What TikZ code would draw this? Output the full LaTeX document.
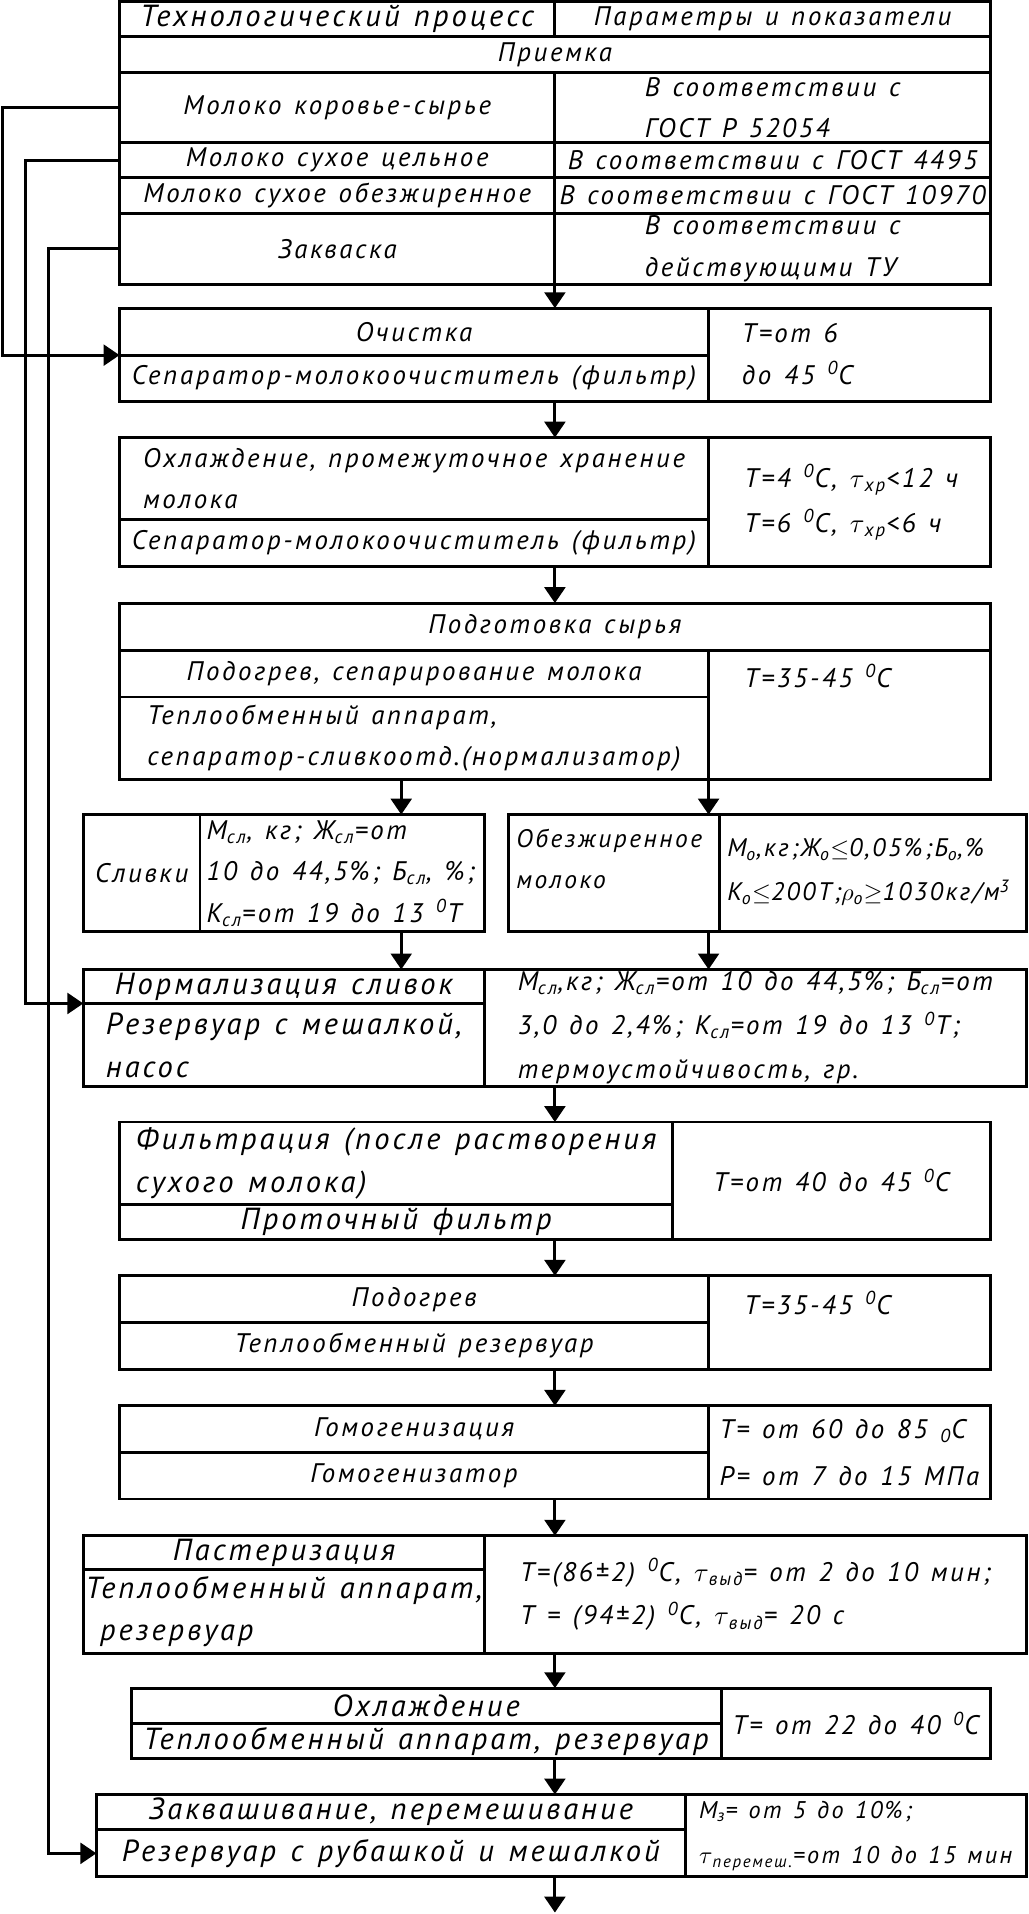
\documentclass[tikz,border=0pt]{standalone}
\usepackage{fontspec}
\setmainfont{PT Sans}[LetterSpace=10, WordSpace=1.3]
\usetikzlibrary{positioning,arrows.meta}
\newcommand{\gradus}{\textsuperscript{0}}
\newcommand{\lowidx}[1]{\textsubscript{#1}}

\begin{document}
\begin{tikzpicture}[x=0.5pt, y=-0.5pt,
  txt/.style={inner sep=0pt, font=\fontsize{11}{17}\selectfont\itshape},
  big/.style={font=\fontsize{12.5}{17.5}\selectfont\itshape},
  lsk/.style={font=\fontsize{11}{#1}\selectfont\itshape},
  cell/.style={draw, line width=1.2pt, outer sep=0pt, txt},
  cellat/.style args={#1/#2/#3/#4}{minimum width={((#3)-(#1))*0.5pt},
    minimum height={((#4)-(#2))*0.5pt}, at={({((#1)+(#3))/2},{((#2)+(#4))/2})}},
  arr/.style={line width=1.2pt, -{Triangle[length=6.5pt, width=8.5pt]}},
  ]
  \fill[white] (0,0) rectangle (843,1568);
  \coordinate (ax) at (455,0);
  \coordinate (xl) at (329,0);
  \coordinate (la) at (2,0);
  \coordinate (lb) at (21,0);
  \coordinate (lc) at (40,0);
  \coordinate (out) at (455,1568);

  \node[cell, big, cellat=98/1/455/30] (hd1) {Технологический процесс};
  \node[cell, cellat=455/1/812/30] (hd2) {Параметры и показатели};
  \node[cell, cellat=98/30/812/59] (pr) {Приемка};
  \node[cell, cellat=98/59/455/117] (m1) {Молоко коровье-сырье};
  \node[cell, cellat=455/59/812/117, align=left] (m1p) {В соответствии с\\ГОСТ Р 52054};
  \node[cell, cellat=98/117/455/145.5] (m2) {Молоко сухое цельное};
  \node[cell, cellat=455/117/812/145.5] (m2p) {В соответствии с ГОСТ 4495};
  \node[cell, cellat=98/145.5/455/174.5] (m3) {Молоко сухое обезжиренное};
  \node[cell, cellat=455/145.5/812/174.5] (m3p) {В соответствии с ГОСТ 10970};
  \node[cell, cellat=98/174.5/455/233] (zq) {Закваска};
  \node[cell, cellat=455/174.5/812/233, align=left] (zqp) {В соответствии с\\действующими ТУ};

  \node[cell, cellat=98/252.5/581/291] (c1) {Очистка};
  \node[cell, cellat=98/291/581/329] (c1e) {Сепаратор-молокоочиститель (фильтр)};
  \node[cell, cellat=581/252.5/812/329] (c1p) {};
  \node[txt, anchor=west, align=left] (c1t) at (608,290) {Т=от 6\\до 45 \gradus С};

  \node[cell, cellat=98/358.6/581/426, align=left] (c2) {Охлаждение, промежуточное хранение\\молока};
  \node[cell, cellat=98/426/581/464.3] (c2e) {Сепаратор-молокоочиститель (фильтр)};
  \node[cell, cellat=581/358.6/812/464.3] (c2p) {};
  \node[txt, lsk=18.5, anchor=west, align=left] (c2t) at (610,411.5)
    {Т=4 \gradus С, $\tau$\lowidx{хр}<12 ч\\Т=6 \gradus С, $\tau$\lowidx{хр}<6 ч};

  \node[cell, cellat=98/494.3/812/533] (c3) {Подготовка сырья};
  \node[cell, cellat=98/533/581/571.3] (c3a) {Подогрев, сепарирование молока};
  \node[cell, cellat=98/571.3/581/639, align=left] (c3e) {Теплообменный аппарат,\\сепаратор-сливкоотд.(нормализатор)};
  \node[cell, cellat=581/533/812/639] (c3p) {};
  \node[txt, anchor=west] (c3t) at (610,554) {Т=35-45 \gradus С};

  \node[cell, cellat=68.3/667.7/164/763.8] (s1) {Сливки};
  \node[cell, cellat=164/667.7/397/763.8] (s1p) {};
  \node[txt, anchor=west, align=left] (s1t) at (169,716)
    {М\lowidx{сл}, кг; Ж\lowidx{сл}=от\\10 до 44,5\%; Б\lowidx{сл}, \%;\\К\lowidx{сл}=от 19 до 13 \gradus Т};
  \node[cell, cellat=417/667.7/590/763.8] (s2) {};
  \node[txt, font=\fontsize{10.4}{17}\selectfont\itshape, anchor=west, align=left] (s2t) at (423,704) {Обезжиренное\\молоко};
  \node[cell, cellat=590/667.7/841.4/763.8] (s2p) {};
  \node[txt, font=\fontsize{10.4}{18}\selectfont\itshape, anchor=west, align=left] (s2pt) at (596,715)
    {М\lowidx{о},кг;Ж\lowidx{о}$\le$0,05\%;Б\lowidx{о},\%\\К\lowidx{о}$\le$200Т;$\rho$\lowidx{о}$\ge$1030кг/м\textsuperscript{3}};

  \node[cell, big, cellat=68.3/794.7/397.3/822.6] (n1) {Нормализация сливок};
  \node[cell, big, cellat=68.3/822.6/397.3/890.8, align=left] (n1e) {Резервуар с мешалкой,\\насос};
  \node[cell, lsk=18, cellat=397.3/794.7/841.4/890.8, align=left] (n1p)
    {М\lowidx{сл},кг; Ж\lowidx{сл}=от 10 до 44,5\%; Б\lowidx{сл}=от\\3,0 до 2,4\%; К\lowidx{сл}=от 19 до 13 \gradus Т;\\термоустойчивость, гр.};

  \node[cell, big, cellat=98/919.8/551.5/987.2, align=left] (f1) {Фильтрация (после растворения\\сухого молока)};
  \node[cell, big, cellat=98/987.2/551.5/1015.9] (f1e) {Проточный фильтр};
  \node[cell, cellat=551.5/919.8/812/1015.9] (f1p) {Т=от 40 до 45 \gradus С};

  \node[cell, cellat=98/1045.9/581/1084.2] (p1) {Подогрев};
  \node[cell, cellat=98/1084.2/581/1122.4] (p1e) {Теплообменный резервуар};
  \node[cell, cellat=581/1045.9/812/1122.4] (p1p) {};
  \node[txt, anchor=west] (p1t) at (610,1068) {Т=35-45 \gradus С};

  \node[cell, cellat=98/1152.5/581/1190.7] (g1) {Гомогенизация};
  \node[cell, cellat=98/1190.7/581/1228.9] (g1e) {Гомогенизатор};
  \node[cell, lsk=19.5, cellat=581/1152.5/812/1228.9, align=left] (g1p)
    {Т= от 60 до 85 \lowidx{0}С\\Р= от 7 до 15 МПа};

  \node[cell, big, cellat=68.3/1259/397.3/1287] (ps) {Пастеризация};
  \node[cell, big, cellat=68.3/1287/397.3/1355.3, align=left] (pse) {Теплообменный аппарат,\\\ резервуар};
  \node[cell, lsk=18, cellat=397.3/1259/841.4/1355.3, align=left] (psp)
    {Т=(86±2) \gradus С, $\tau$\lowidx{выд}= от 2 до 10 мин;\\Т = (94±2) \gradus С, $\tau$\lowidx{выд}= 20 с};

  \node[cell, big, cellat=107.5/1384/591.3/1413.2] (oh) {Охлаждение};
  \node[cell, big, cellat=107.5/1413.2/591.3/1441.9] (ohe) {Теплообменный аппарат, резервуар};
  \node[cell, cellat=591.3/1384/812/1441.9] (ohp) {Т= от 22 до 40 \gradus С};

  \node[cell, big, cellat=79/1471.2/561.8/1500.1] (zk) {Заквашивание, перемешивание};
  \node[cell, big, cellat=79/1500.1/561.8/1538.8] (zke) {Резервуар с рубашкой и мешалкой};
  \node[cell, font=\fontsize{9.9}{18.5}\selectfont\itshape, cellat=561.8/1471.2/841.4/1538.8, align=left] (zkp)
    {М\lowidx{з}= от 5 до 10\%;\\$\tau$\lowidx{перемеш.}=от 10 до 15 мин};

  \foreach \a/\b in {zqp/c1, c1e/c2, c2e/c3, n1p/f1, f1e/p1, p1e/g1, g1e/ps, pse/oh, ohe/zk}
    \draw[arr] (\a.south -| ax) -- (\b.north -| ax);
  \draw[arr] (zke.south -| ax) -- (out);
  \draw[arr] (c3e.south -| xl) -- (s1p.north -| xl);
  \draw[arr] (c3p.south west) -- (s2.north -| c3p.west);
  \draw[arr] (s1p.south -| xl) -- (n1.north -| xl);
  \draw[arr] (s2.south -| c3p.west) -- (n1p.north -| c3p.west);

  \draw[arr] (m1.west) -- (m1.west -| la) |- (c1.south west);
  \draw[arr] (m2.west) -- (m2.west -| lb) |- (n1.south west);
  \draw[arr] (zq.west) -- (zq.west -| lc) |- (zke.west);
\end{tikzpicture}
\end{document}
